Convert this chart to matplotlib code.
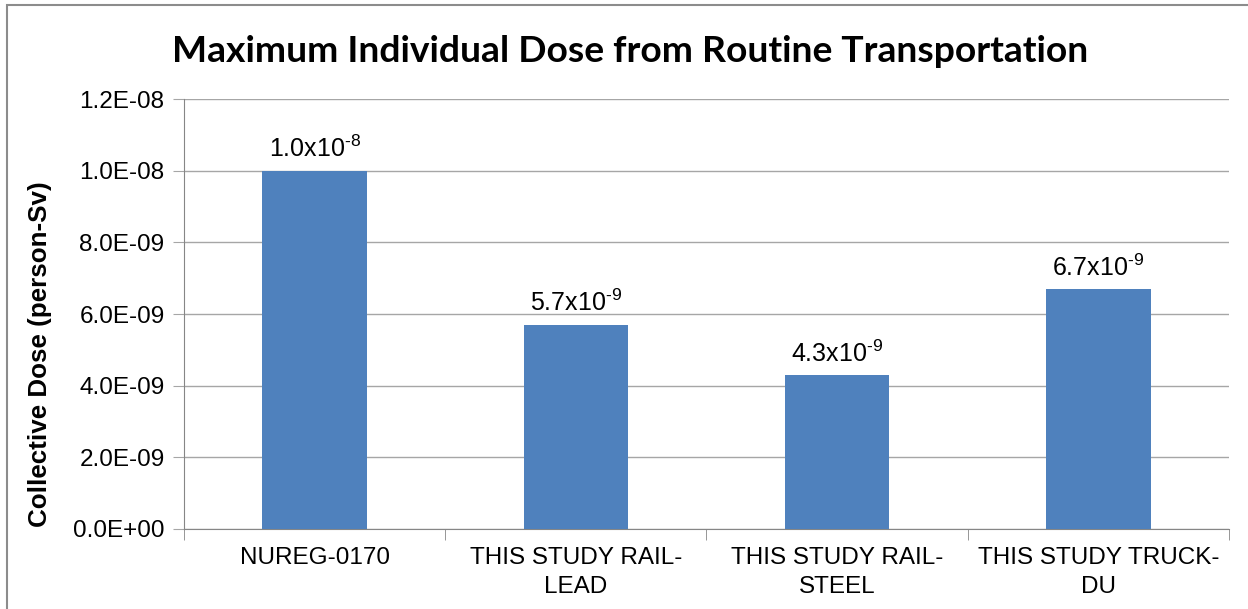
import numpy as np
import matplotlib
matplotlib.use("Agg")
import matplotlib.pyplot as plt
from matplotlib.patches import Rectangle
from matplotlib.ticker import FixedLocator, FuncFormatter

plt.rcParams['font.family'] = ['Liberation Sans', 'DejaVu Sans']
plt.rcParams['mathtext.fontset'] = 'custom'
plt.rcParams['mathtext.rm'] = 'Liberation Sans'
plt.rcParams['mathtext.it'] = 'Liberation Sans:italic'
plt.rcParams['mathtext.bf'] = 'Liberation Sans:bold'

categories = ["NUREG-0170", "THIS STUDY RAIL-\nLEAD", "THIS STUDY RAIL-\nSTEEL", "THIS STUDY TRUCK-\nDU"]
doses = [1.0e-8, 5.7e-9, 4.3e-9, 6.7e-9]
mantissas = ["1.0", "5.7", "4.3", "6.7"]
exponents = ["8", "9", "9", "9"]
yticks = [0, 2e-9, 4e-9, 6e-9, 8e-9, 1.0e-8, 1.2e-8]

bar_color = "#4F81BD"
grid_color = "#A6A6A6"
axis_color = "#868686"

fig = plt.figure(figsize=(12.48, 6.09), dpi=100)
ax = fig.add_axes([0.1474, 0.1314, 0.8374, 0.7060])

x = np.arange(len(categories))
bars = ax.bar(x, doses, width=0.4, color=bar_color, zorder=3)

# value labels, hyphen kept as a plain hyphen in the exponent
for xi, d, m, e in zip(x, doses, mantissas, exponents):
    ax.annotate(m + "x10$^{\u2010" + e + "}$", (xi, d), xytext=(0, 6),
                textcoords="offset points", ha="center", va="bottom", fontsize=18)

ax.set_xlim(-0.5, len(categories) - 0.5)
ax.set_ylim(0, 1.2e-8)
ax.yaxis.set_major_locator(FixedLocator(yticks))
ax.yaxis.set_major_formatter(FuncFormatter(lambda v, p: ("%.1E" % v)))
ax.grid(axis="y", color=grid_color, linewidth=1, zorder=0)

ax.set_xticks(x)
ax.set_xticklabels(categories, fontsize=17.5, linespacing=1.4)
ax.set_xticks(np.arange(-0.5, len(categories)), minor=True)
ax.tick_params(axis="x", which="major", length=0, pad=13)
ax.tick_params(axis="x", which="minor", length=8, color=axis_color, direction="out")
ax.tick_params(axis="y", length=8, color=grid_color, labelsize=17.5, pad=6)

for side in ["top", "right"]:
    ax.spines[side].set_visible(False)
ax.spines["left"].set_color(axis_color)
ax.spines["bottom"].set_color(axis_color)

fig.text(40 / 1248, 1 - 354 / 609, "Collective Dose (person-Sv)", rotation=90,
         ha="center", va="center", fontsize=18.7, fontweight="bold")

fig.text(0.505, 0.915, "Maximum Individual Dose from Routine Transportation",
         ha="center", va="center", fontsize=26.8, fontweight="bold", family=["Lato", "DejaVu Sans"])

# outer chart frame
fig.patches.append(Rectangle((7 / 1248, -0.1), 1.2, 1 - 5 / 609 + 0.1, transform=fig.transFigure,
                             fill=False, edgecolor="#8C8C8C", linewidth=1.5))

fig.savefig("out.png", dpi=100)
